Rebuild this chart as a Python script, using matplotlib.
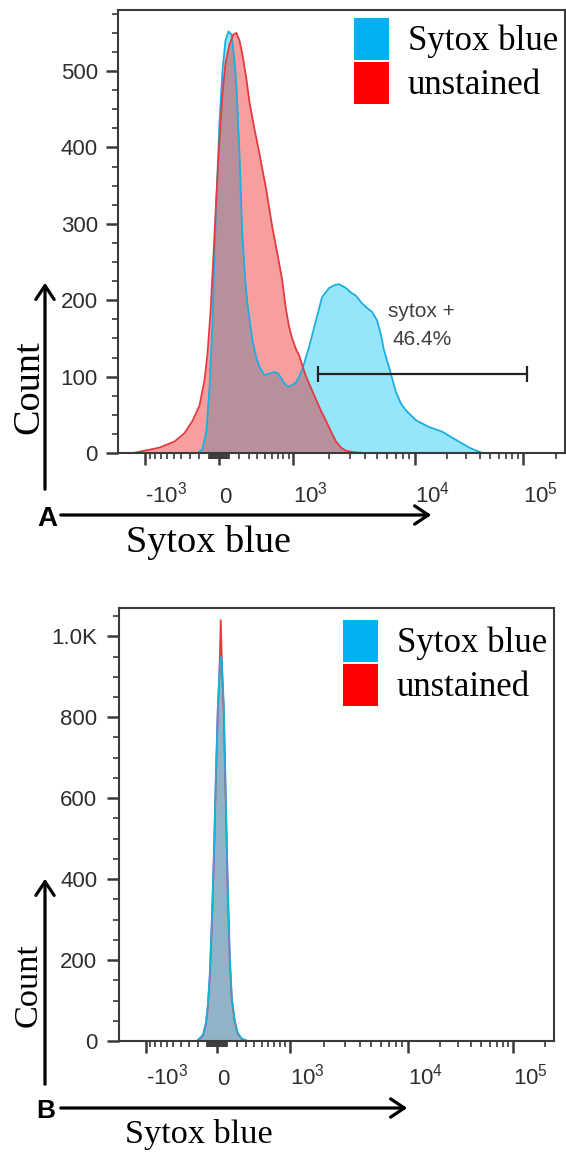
import numpy as np
import matplotlib
matplotlib.use("Agg")
import matplotlib.pyplot as plt
from matplotlib.patches import FancyArrowPatch, Rectangle

W_PX, H_PX = 566, 1155

# ---- panel A : live/dead staining, sytox blue vs unstained ----
a_sytox_x = [-214, -162, -122, -92, -63, -43, -14, 5, 33, 62,
             91, 120, 150, 170, 201, 232, 264, 286, 343, 391,
             429, 495, 566, 642, 708, 778, 844, 913, 1000, 1064,
             1127, 1197, 1374, 1574, 1766, 2018, 2261, 2437, 2780, 3052,
             3350, 3747, 4113, 4513, 4952, 5332, 5637, 6184, 7040, 7722,
             8470, 10220, 13524, 17889, 24176, 31966, 37177, 42290]
a_sytox_y = [0, 5, 30, 87, 170, 262, 370, 435, 500, 540,
             552, 548, 515, 480, 393, 283, 225, 196, 148, 125,
             113, 102, 104, 106, 104, 96, 89, 87, 90, 93,
             100, 109, 139, 174, 204, 216, 220, 221, 216, 210,
             206, 196, 190, 185, 174, 155, 135, 113, 80, 65,
             56, 43, 34, 28, 17, 7, 3, 0]
a_unst_x = [-1300, -1019, -724, -489, -360, -268, -193, -142, -112, -82,
            -53, -24, 5, 33, 62, 101, 140, 170, 201, 232,
            275, 309, 367, 428, 481, 522, 566, 611, 691, 777,
            844, 912, 976, 1064, 1127, 1197, 1296, 1428, 1574, 1733,
            1907, 2096, 2304, 2531, 2780, 3228, 3888]
a_unst_y = [0, 3, 7, 15, 26, 42, 62, 95, 130, 185,
            260, 340, 410, 470, 510, 535, 548, 550, 540, 522,
            490, 460, 425, 393, 365, 345, 320, 296, 262, 227,
            190, 165, 150, 135, 128, 115, 100, 85, 70, 55,
            42, 28, 15, 7, 3, 1, 0]
gate_x = [1630, 109000]
gate_y = 103
gate_name = "sytox +"
gate_pct = "46.4%"

# ---- panel B ----
b_sytox_x = [-207, -144, -114, -94, -74, -54, -34, -15, 5, 24, 34, 44,
             64, 84, 104, 124, 144, 175, 207, 250, 318]
b_sytox_y = [0, 15, 45, 90, 170, 300, 460, 650, 820, 930, 950, 940,
             830, 600, 380, 210, 110, 50, 20, 6, 0]
b_unst_x = [-207, -144, -114, -94, -74, -54, -34, -15, 5, 20, 34, 49,
            64, 84, 104, 124, 144, 175, 207, 250, 318]
b_unst_y = [0, 13, 42, 85, 160, 290, 450, 640, 820, 900, 1040, 900,
            810, 590, 370, 200, 105, 47, 18, 5, 0]

x_major = [-1e3, 0, 1e3, 1e4, 1e5]
x_labels = ["-$\\mathrm{10^{3}}$", "0", "$\\mathrm{10^{3}}$",
            "$\\mathrm{10^{4}}$", "$\\mathrm{10^{5}}$"]
a_yticks = [0, 100, 200, 300, 400, 500]
b_yticks = [0, 200, 400, 600, 800, 1000]
b_ylabels = ["0", "200", "400", "600", "800", "1.0K"]
series_names = ["Sytox blue", "unstained"]

BLUE_FILL, BLUE_LINE = "#1FCAF5", "#1AAFE0"
RED_FILL, RED_LINE = "#ED1111", "#E53A40"
LEG_BLUE, LEG_RED = "#00B0F0", "#FF0000"
AX_COL = "#3a3a3a"
TXT_COL = "#2e2e2e"

plt.rcParams["font.family"] = ["Liberation Sans", "DejaVu Sans"]
plt.rcParams["mathtext.fontset"] = "custom"
plt.rcParams["mathtext.rm"] = "Liberation Sans"

# biexponential-ish display scale like FlowJo
BIEX_W = 480
edge_vals = np.array([-1800, -1e3, 0, 1e3, 1e4, 1e5, 2.4e5])
edge_frac = np.array([0, 0.061, 0.226, 0.392, 0.664, 0.906, 1.0])
edge_s = np.arcsinh(edge_vals / BIEX_W)


def fwd(x):
    return np.interp(np.arcsinh(np.asarray(x, float) / BIEX_W), edge_s, edge_frac)


def inv(u):
    return BIEX_W * np.sinh(np.interp(np.asarray(u, float), edge_frac, edge_s))


x_minor = ([-v for v in range(100, 1000, 100)] + [-v for v in range(10, 100, 10)]
           + list(range(10, 100, 10)) + list(range(100, 1000, 100))
           + list(range(2000, 10000, 1000)) + list(range(20000, 100000, 10000))
           + [200000])


def fpos(x, y):
    # pixel (from top-left) -> figure fraction
    return x / W_PX, 1 - y / H_PX


fig = plt.figure(figsize=(W_PX / 100, H_PX / 100), dpi=100)
ax_a = fig.add_axes([118 / W_PX, 1 - 453 / H_PX, 447 / W_PX, 443 / H_PX])
ax_b = fig.add_axes([119 / W_PX, 1 - 1041 / H_PX, 435 / W_PX, 433 / H_PX])


def style_axis(ax, ymax, yticks, ylabels, ystep, xpad, ypad):
    ax.set_xscale("function", functions=(fwd, inv))
    ax.set_xlim(edge_vals[0], edge_vals[-1])
    ax.set_ylim(0, ymax)
    ax.set_xticks(x_major)
    ax.set_xticklabels(x_labels, ha="left", va="baseline")
    ax.set_xticks(x_minor, minor=True)
    ax.set_yticks(yticks)
    ax.set_yticklabels(ylabels)
    ax.set_yticks(np.arange(0, ymax, ystep), minor=True)
    ax.tick_params(which="major", length=8.6, width=1.8, color=AX_COL,
                   labelsize=16, labelcolor=TXT_COL)
    ax.tick_params(which="minor", length=4.3, width=1.2, color=AX_COL)
    ax.tick_params(axis="x", which="major", pad=xpad)
    ax.tick_params(axis="y", which="major", pad=ypad)
    for sp in ax.spines.values():
        sp.set_color(AX_COL)
        sp.set_linewidth(1.5)


# panel A: stained first, unstained on top
ax_a.fill_between(a_sytox_x, a_sytox_y, color=BLUE_FILL, alpha=0.47, lw=0)
ax_a.plot(a_sytox_x, a_sytox_y, color=BLUE_LINE, lw=1.3)
ax_a.fill_between(a_unst_x, a_unst_y, color=RED_FILL, alpha=0.4, lw=0)
ax_a.plot(a_unst_x, a_unst_y, color=RED_LINE, lw=1.3)
ax_a.plot(gate_x, [gate_y, gate_y], color="#222222", lw=1.6)
ax_a.plot(gate_x, [gate_y, gate_y], ls="none", marker="|", ms=11, mew=1.6,
          color="#222222")
ax_a.text(11400, 185, gate_name, ha="center", va="center", fontsize=15, color="#404040")
ax_a.text(11600, 148, gate_pct, ha="center", va="center", fontsize=15, color="#404040")
style_axis(ax_a, 580, a_yticks, [str(v) for v in a_yticks], 25, 27.4, 5.8)

# panel B: unstained first, stained on top
ax_b.fill_between(b_unst_x, b_unst_y, color=RED_FILL, alpha=0.4, lw=0)
ax_b.plot(b_unst_x, b_unst_y, color=RED_LINE, lw=1.3)
ax_b.fill_between(b_sytox_x, b_sytox_y, color=BLUE_FILL, alpha=0.47, lw=0)
ax_b.plot(b_sytox_x, b_sytox_y, color=BLUE_LINE, lw=1.3)
style_axis(ax_b, 1070, b_yticks, b_ylabels, 50, 23, 7)

# legends, axis labels and arrows drawn on the figure (pixel positions)
panels = [
    dict(leg_x=354, leg_y=18, pw=35, ph=42, tx=408, tsize=25,
         count_xy=(29, 387), csize=27.5, sytox_xy=(208, 552),
         letter="A", letter_xy=(47, 519), lsize=20,
         varrow=((45, 492), (45, 280)), harrow=((58, 515), (434, 515))),
    dict(leg_x=343, leg_y=620, pw=35, ph=42, tx=397, tsize=25,
         count_xy=(28, 985), csize=24.7, sytox_xy=(199, 1143),
         letter="B", letter_xy=(46, 1111), lsize=19,
         varrow=((45, 1087), (45, 876)), harrow=((58, 1108), (410, 1108))),
]
for p in panels:
    for i, (name, col) in enumerate(zip(series_names, [LEG_BLUE, LEG_RED])):
        top = p["leg_y"] + i * (p["ph"] + 2)
        x0, y0 = fpos(p["leg_x"], top + p["ph"])
        fig.add_artist(Rectangle((x0, y0), p["pw"] / W_PX, p["ph"] / H_PX,
                                 transform=fig.transFigure, color=col, lw=0))
        tx, ty = fpos(p["tx"], top + p["ph"] - 10)
        fig.text(tx, ty, name, family="Liberation Serif", fontsize=p["tsize"],
                 va="baseline", ha="left", color="black")
    cx, cy = fpos(*p["count_xy"])
    fig.text(cx, cy, "Count", family="Liberation Serif", fontsize=p["csize"],
             rotation=90, ha="center", va="center")
    sx, sy = fpos(*p["sytox_xy"])
    fig.text(sx, sy, "Sytox blue", family="Liberation Serif", fontsize=p["csize"],
             ha="center", va="baseline")
    lx, ly = fpos(*p["letter_xy"])
    fig.text(lx, ly, p["letter"], fontsize=p["lsize"], fontweight="bold",
             ha="center", va="center")
    for a0, a1 in [p["varrow"], p["harrow"]]:
        fig.add_artist(FancyArrowPatch(fpos(*a0), fpos(*a1), transform=fig.transFigure,
                                       arrowstyle="->,head_length=0.45,head_width=0.3",
                                       mutation_scale=22, lw=2.3, color="black"))

fig.savefig("out.png", dpi=100)
